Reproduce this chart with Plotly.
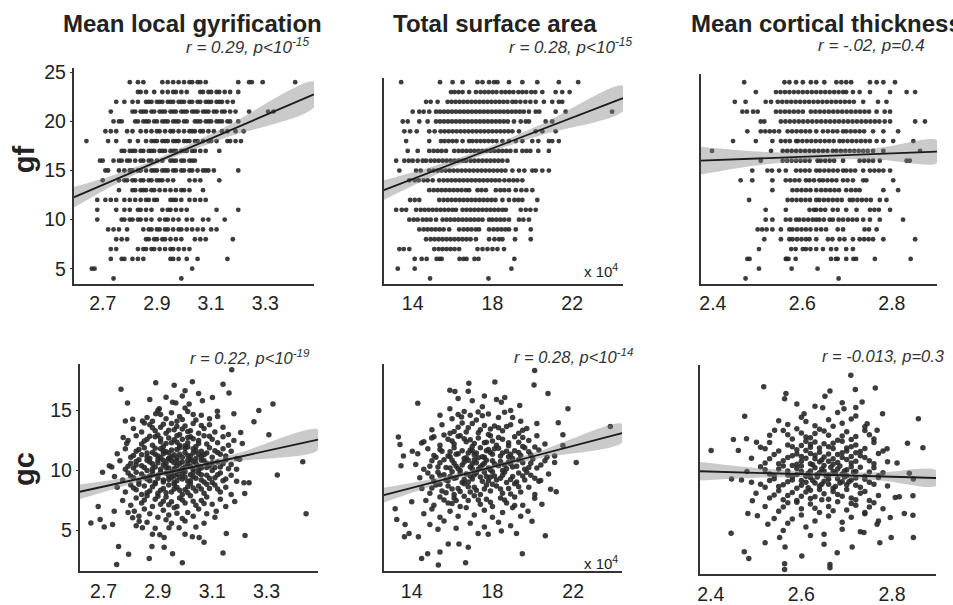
import plotly.graph_objects as go

W, H = 953, 605

# ---------------- data ----------------
gf_levels = [24, 23, 22, 21, 20, 19, 18, 17, 16, 15, 14, 13, 12, 11, 10, 9, 8, 7, 6, 5, 4]

# Mean local gyrification vs gf : x values for each gf level
tl_rows = [
    [2.80, 2.83, 2.85, 2.92, 2.94, 2.96, 2.98, 3.00, 3.02, 3.03, 3.05, 3.06, 3.08, 3.20, 3.24, 3.25, 3.29, 3.41],
    [2.83, 2.84, 2.86, 2.89, 2.92, 2.94, 2.96, 2.97, 2.99, 3.01, 3.06, 3.07, 3.09, 3.10, 3.12, 3.13, 3.15, 3.17, 3.20],
    [2.75, 2.78, 2.81, 2.83, 2.86, 2.87, 2.88, 2.90, 2.91, 2.92, 2.94, 2.95, 2.96, 2.98, 2.99, 3.00, 3.02, 3.03, 3.05, 3.06, 3.08, 3.09, 3.10, 3.12, 3.13, 3.14, 3.16, 3.18],
    [2.73, 2.81, 2.82, 2.84, 2.85, 2.86, 2.88, 2.89, 2.91, 2.92, 2.93, 2.95, 2.96, 2.97, 2.99, 3.00, 3.01, 3.03, 3.04, 3.05, 3.07, 3.08, 3.09, 3.11, 3.12, 3.14, 3.15, 3.17, 3.19, 3.24, 3.31, 3.33],
    [2.74, 2.76, 2.77, 2.82, 2.83, 2.85, 2.86, 2.87, 2.89, 2.90, 2.92, 2.93, 2.94, 2.96, 2.97, 2.98, 3.00, 3.01, 3.04, 3.05, 3.06, 3.08, 3.09, 3.10, 3.12, 3.13, 3.14, 3.16, 3.17, 3.20],
    [2.71, 2.73, 2.75, 2.79, 2.81, 2.84, 2.86, 2.88, 2.90, 2.91, 2.93, 2.95, 2.96, 2.98, 3.00, 3.02, 3.03, 3.04, 3.06, 3.07, 3.09, 3.11, 3.14, 3.16, 3.19, 3.22],
    [2.64, 2.72, 2.75, 2.80, 2.83, 2.86, 2.88, 2.89, 2.90, 2.92, 2.93, 2.94, 2.96, 2.97, 2.98, 3.00, 3.01, 3.02, 3.04, 3.05, 3.07, 3.09, 3.10, 3.12, 3.16, 3.17, 3.19, 3.21],
    [2.77, 2.78, 2.80, 2.81, 2.82, 2.84, 2.85, 2.87, 2.88, 2.89, 2.91, 2.92, 2.93, 2.95, 2.96, 2.97, 2.99, 3.00, 3.01, 3.03, 3.04, 3.06, 3.08, 3.13],
    [2.69, 2.70, 2.74, 2.76, 2.77, 2.79, 2.80, 2.82, 2.84, 2.85, 2.87, 2.88, 2.90, 2.92, 2.95, 2.96, 2.97, 2.99, 3.00, 3.02, 3.03, 3.04],
    [2.71, 2.72, 2.76, 2.78, 2.80, 2.81, 2.83, 2.84, 2.86, 2.88, 2.89, 2.90, 2.92, 2.93, 2.94, 2.96, 2.97, 2.99, 3.00, 3.02, 3.03, 3.05, 3.07, 3.08, 3.09, 3.11, 3.20],
    [2.70, 2.76, 2.78, 2.79, 2.81, 2.82, 2.84, 2.85, 2.87, 2.88, 2.90, 2.91, 2.92, 2.94, 2.96, 3.02, 3.04, 3.06, 3.13],
    [2.76, 2.81, 2.82, 2.84, 2.85, 2.86, 2.88, 2.89, 2.91, 2.93, 2.95, 2.97, 2.99, 3.00, 3.02, 3.07],
    [2.68, 2.71, 2.73, 2.75, 2.78, 2.80, 2.82, 2.84, 2.86, 2.87, 2.89, 2.90, 2.95, 2.96, 2.97, 2.99, 3.02, 3.04, 3.06, 3.08],
    [2.68, 2.75, 2.78, 2.80, 2.83, 2.84, 2.86, 2.88, 2.92, 2.94, 2.95, 2.97, 2.99, 3.01, 3.12, 3.20],
    [2.68, 2.77, 2.78, 2.80, 2.81, 2.83, 2.84, 2.86, 2.88, 2.91, 2.93, 2.94, 2.96, 2.98, 3.01, 3.03, 3.07, 3.09, 3.15],
    [2.72, 2.74, 2.76, 2.79, 2.85, 2.87, 2.88, 2.90, 2.91, 2.93, 2.94, 2.96, 2.98, 2.99, 3.01, 3.03, 3.05, 3.07, 3.10, 3.12],
    [2.75, 2.77, 2.79, 2.86, 2.87, 2.89, 2.90, 2.92, 2.93, 2.95, 2.97, 2.99, 3.04, 3.06, 3.08, 3.18],
    [2.73, 2.75, 2.83, 2.85, 2.86, 2.88, 2.89, 2.91, 2.93, 2.95, 2.96, 2.98, 3.00, 3.02],
    [2.73, 2.77, 2.78, 2.81, 2.83, 2.85, 2.95, 2.96, 2.98, 3.01, 3.05, 3.16],
    [2.66, 2.67, 3.03],
    [2.74, 2.99],
]

# Total surface area (x 10^4) vs gf
tm_rows = [
    [13.42, 15.37, 16.0, 16.5, 17.25, 17.5, 17.83, 18.08, 18.25, 18.83, 19.5, 20.25, 21.33, 22.3],
    [15.92, 16.1, 16.3, 16.5, 16.83, 17.17, 17.4, 17.6, 17.8, 18.0, 18.2, 18.45, 18.65, 18.85, 19.05, 19.3, 19.5, 19.7, 19.95, 20.15, 20.5, 21.17, 21.5, 21.87],
    [14.67, 14.9, 15.25, 15.75, 15.95, 16.15, 16.35, 16.55, 16.75, 16.95, 17.15, 17.35, 17.55, 17.75, 17.95, 18.15, 18.35, 18.55, 18.75, 19.0, 19.17, 19.4, 19.65, 19.9, 20.17, 20.58, 21.0, 21.33, 21.5],
    [14.0, 14.33, 14.55, 14.83, 15.17, 15.37, 15.57, 15.77, 15.97, 16.17, 16.37, 16.57, 16.77, 16.97, 17.17, 17.37, 17.57, 17.77, 17.97, 18.17, 18.37, 18.57, 18.77, 18.97, 19.17, 19.37, 19.57, 19.83, 20.17, 20.35, 21.17, 21.67, 24.0],
    [13.5, 13.75, 14.33, 14.75, 15.17, 15.37, 15.57, 15.77, 15.97, 16.17, 16.37, 16.57, 16.77, 16.97, 17.17, 17.37, 17.57, 17.77, 17.97, 18.17, 18.37, 18.57, 18.77, 19.08, 19.42, 19.67, 19.83, 20.67, 21.0],
    [13.58, 13.87, 14.2, 14.83, 15.1, 15.4, 15.6, 15.8, 16.0, 16.2, 16.4, 16.6, 16.8, 17.0, 17.2, 17.4, 17.6, 17.8, 18.0, 18.2, 18.4, 18.6, 18.8, 19.0, 19.33, 20.17, 20.5, 21.17],
    [13.67, 14.83, 15.42, 15.6, 15.8, 16.0, 16.2, 16.5, 16.83, 17.0, 17.2, 17.4, 17.6, 17.8, 18.0, 18.2, 18.5, 18.83, 19.17, 19.5, 20.0, 20.3, 20.83, 21.0, 21.33],
    [13.75, 14.25, 14.83, 15.05, 15.25, 15.45, 15.67, 16.08, 16.3, 16.5, 16.7, 16.9, 17.1, 17.3, 17.5, 17.7, 17.9, 18.1, 18.3, 18.5, 18.7, 18.9, 19.17, 19.5, 19.7, 19.9, 20.3, 20.83],
    [13.17, 13.58, 13.8, 14.0, 14.25, 14.5, 14.67, 14.9, 15.1, 15.3, 15.5, 15.7, 15.9, 16.1, 16.3, 16.5, 16.67, 16.9, 17.1, 17.3, 17.5, 17.7, 17.9, 18.1, 18.3, 18.5, 18.75],
    [13.33, 14.17, 14.4, 14.83, 15.05, 15.25, 15.45, 15.65, 15.85, 16.05, 16.25, 16.45, 16.65, 16.85, 17.05, 17.25, 17.45, 17.65, 17.85, 18.05, 18.25, 18.45, 18.65, 19.0, 19.33, 19.6, 20.0, 20.17, 20.5, 20.83],
    [13.83, 14.1, 14.3, 14.55, 14.75, 15.0, 15.33, 15.55, 15.75, 15.95, 16.15, 16.35, 16.55, 16.75, 16.95, 17.15, 17.35, 17.55, 17.75, 17.95, 18.15, 18.35, 18.6, 18.83, 19.05, 19.25, 19.5],
    [14.83, 15.05, 15.25, 15.45, 15.65, 15.85, 16.05, 16.25, 16.45, 16.67, 16.83, 17.25, 17.45, 17.67, 18.17, 18.4, 18.6, 18.83, 19.17, 19.45, 19.7, 20.0],
    [13.87, 14.1, 14.33, 15.33, 15.55, 15.75, 15.95, 16.15, 16.35, 16.55, 16.75, 16.95, 17.15, 17.35, 17.55, 17.75, 17.95, 18.15, 18.5, 18.83, 19.1, 19.3, 19.5, 20.25],
    [13.17, 13.45, 13.67, 14.17, 14.4, 14.6, 14.8, 15.0, 15.2, 15.4, 15.6, 15.8, 16.0, 16.17, 16.5, 16.7, 16.9, 17.1, 17.3, 17.5, 17.7, 17.9, 18.1, 18.3, 18.5, 18.67, 19.42, 19.67, 19.9, 20.17],
    [13.83, 14.05, 14.25, 14.5, 14.7, 14.9, 15.17, 15.5, 15.7, 15.9, 16.1, 16.3, 16.5, 16.7, 16.9, 17.1, 17.3, 17.5, 17.83, 18.0, 18.2, 18.4, 18.6, 18.83, 19.33, 19.55, 19.83],
    [14.33, 14.55, 14.75, 14.95, 15.15, 15.35, 15.55, 15.83, 16.33, 16.55, 16.75, 16.95, 17.17, 17.33, 17.83, 18.05, 18.25, 18.45, 18.65, 18.83, 19.17, 19.92],
    [14.67, 14.9, 15.1, 15.3, 15.5, 15.7, 15.9, 16.1, 16.3, 16.5, 16.7, 16.9, 17.17, 17.83, 18.1, 18.33, 18.5, 19.13, 19.92],
    [13.33, 13.55, 13.83, 15.08, 15.3, 15.5, 15.7, 15.9, 16.1, 16.33, 17.25, 17.5, 17.75, 18.0, 18.25, 18.58],
    [14.1, 14.45, 14.7, 15.2, 15.35, 15.45, 16.35, 16.55, 16.7, 17.1, 17.3, 19.1],
    [13.25, 14.1, 18.95],
    [14.87, 17.8],
]

# Mean cortical thickness vs gf
tr_rows = [
    [2.470, 2.560, 2.571, 2.586, 2.601, 2.619, 2.631, 2.649, 2.676, 2.687, 2.698, 2.709, 2.751, 2.766, 2.781, 2.807],
    [2.496, 2.541, 2.551, 2.561, 2.571, 2.581, 2.591, 2.601, 2.611, 2.621, 2.631, 2.641, 2.651, 2.661, 2.671, 2.681, 2.691, 2.698, 2.713, 2.728, 2.751, 2.796, 2.833, 2.852],
    [2.449, 2.473, 2.518, 2.530, 2.545, 2.555, 2.565, 2.575, 2.585, 2.595, 2.605, 2.615, 2.625, 2.635, 2.645, 2.655, 2.665, 2.675, 2.685, 2.695, 2.705, 2.715, 2.736, 2.769, 2.788],
    [2.466, 2.476, 2.490, 2.500, 2.541, 2.551, 2.561, 2.571, 2.581, 2.591, 2.601, 2.619, 2.629, 2.639, 2.649, 2.659, 2.669, 2.679, 2.689, 2.699, 2.709, 2.719, 2.729, 2.739, 2.749, 2.766, 2.784, 2.796],
    [2.507, 2.515, 2.552, 2.562, 2.572, 2.582, 2.592, 2.602, 2.612, 2.622, 2.632, 2.642, 2.652, 2.662, 2.672, 2.682, 2.692, 2.702, 2.712, 2.722, 2.732, 2.742, 2.752, 2.762, 2.772, 2.784, 2.796, 2.852, 2.874],
    [2.477, 2.507, 2.517, 2.527, 2.537, 2.548, 2.567, 2.577, 2.587, 2.597, 2.607, 2.617, 2.631, 2.646, 2.657, 2.668, 2.678, 2.691, 2.698, 2.708, 2.718, 2.728, 2.738, 2.758, 2.781, 2.814],
    [2.445, 2.496, 2.533, 2.552, 2.562, 2.572, 2.586, 2.590, 2.600, 2.610, 2.620, 2.630, 2.640, 2.650, 2.660, 2.670, 2.683, 2.691, 2.701, 2.711, 2.721, 2.731, 2.741, 2.751, 2.766, 2.781, 2.803, 2.848],
    [2.398, 2.530, 2.556, 2.566, 2.576, 2.586, 2.596, 2.606, 2.616, 2.626, 2.636, 2.646, 2.656, 2.668, 2.676, 2.686, 2.696, 2.706, 2.716, 2.726, 2.736, 2.746, 2.758, 2.781, 2.863],
    [2.507, 2.556, 2.566, 2.576, 2.586, 2.596, 2.606, 2.616, 2.634, 2.641, 2.651, 2.661, 2.671, 2.691, 2.728, 2.738, 2.748, 2.758, 2.773, 2.833, 2.840],
    [2.488, 2.522, 2.532, 2.548, 2.563, 2.586, 2.596, 2.606, 2.616, 2.631, 2.639, 2.649, 2.659, 2.669, 2.679, 2.691, 2.698, 2.708, 2.718, 2.736, 2.751, 2.761, 2.771, 2.781, 2.796],
    [2.462, 2.488, 2.533, 2.563, 2.573, 2.583, 2.593, 2.608, 2.616, 2.626, 2.638, 2.646, 2.656, 2.666, 2.676, 2.691, 2.701, 2.713, 2.736, 2.743, 2.803],
    [2.533, 2.578, 2.588, 2.598, 2.608, 2.618, 2.631, 2.642, 2.652, 2.662, 2.672, 2.682, 2.698, 2.709, 2.719, 2.728, 2.781, 2.814],
    [2.481, 2.567, 2.577, 2.587, 2.597, 2.607, 2.617, 2.631, 2.638, 2.648, 2.658, 2.668, 2.678, 2.688, 2.706, 2.713, 2.723, 2.733, 2.743, 2.753, 2.773, 2.788],
    [2.518, 2.563, 2.616, 2.626, 2.631, 2.641, 2.651, 2.668, 2.679, 2.698, 2.721, 2.751, 2.761, 2.771, 2.796],
    [2.518, 2.533, 2.563, 2.573, 2.586, 2.593, 2.603, 2.613, 2.623, 2.631, 2.638, 2.648, 2.661, 2.668, 2.681, 2.691, 2.702, 2.712, 2.722, 2.736, 2.751, 2.773, 2.825],
    [2.500, 2.510, 2.520, 2.533, 2.552, 2.571, 2.578, 2.588, 2.598, 2.608, 2.618, 2.631, 2.642, 2.653, 2.679, 2.691, 2.739, 2.749, 2.766],
    [2.515, 2.552, 2.571, 2.578, 2.588, 2.598, 2.608, 2.616, 2.631, 2.657, 2.667, 2.683, 2.694, 2.713, 2.728, 2.738, 2.748, 2.758, 2.781, 2.852],
    [2.503, 2.575, 2.585, 2.601, 2.608, 2.618, 2.631, 2.646, 2.664, 2.676, 2.698, 2.713],
    [2.477, 2.482, 2.563, 2.565, 2.569, 2.585, 2.664, 2.675, 2.679, 2.698, 2.714, 2.720, 2.762, 2.842],
    [2.503, 2.576, 2.634],
    [2.473, 2.681],
]

# Mean local gyrification vs gc : (x, y)
bl_pts = [
    (2.764, 16.76), (2.788, 15.62), (2.892, 17.30), (2.960, 17.09), (3.027, 17.38), (3.000, 16.63), (3.140, 17.17),
    (3.172, 18.39), (3.162, 16.44), (3.272, 15.0), (3.324, 15.54), (3.309, 12.97), (3.254, 14.05), (3.340, 9.63),
    (3.434, 10.72), (3.446, 6.41), (3.221, 4.59), (3.140, 3.13), (3.152, 4.76), (2.990, 2.32), (2.954, 3.08),
    (2.868, 2.67), (2.792, 3.02), (2.748, 2.18), (2.755, 3.67), (2.653, 5.62), (2.680, 7.0), (2.687, 5.92),
    (2.702, 5.30), (2.733, 5.51), (2.696, 9.85), (2.721, 10.39), (2.739, 6.6), (2.772, 12.75), (2.785, 12.24),
    (2.780, 14.11), (2.807, 14.27), (2.843, 14.11), (2.892, 14.73), (2.905, 15.14), (2.954, 15.68), (2.966, 15.62),
    (3.015, 15.54), (3.064, 15.81), (3.101, 16.08), (3.119, 14.92), (3.180, 14.73), (3.205, 13.16), (3.211, 12.24),
    (3.201, 10.93), (3.217, 8.98), (3.236, 8.98), (3.220, 8.09), (3.183, 7.41), (3.115, 6.6), (3.070, 4.02),
    (3.052, 4.43), (3.027, 4.48), (3.000, 4.70), (2.978, 5.24), (2.941, 5.24), (2.923, 4.43), (2.907, 4.65),
    (2.923, 3.62), (2.878, 3.67), (2.880, 4.70), (2.843, 5.24), (2.831, 5.78), (2.807, 6.06), (2.813, 6.6),
    (2.86, 14.4), (2.90, 15.0), (2.93, 14.3), (2.95, 14.8), (2.98, 14.5), (3.01, 14.9), (3.04, 14.2), (3.06, 14.6),
    (3.09, 14.3), (2.88, 14.1), (3.00, 15.2), (2.97, 14.1), (3.12, 14.5),
    (2.81, 13.5), (2.84, 13.2), (2.87, 13.8), (2.89, 13.3), (2.91, 13.6), (2.93, 13.1), (2.95, 13.9), (2.96, 13.4),
    (2.98, 13.0), (3.00, 13.7), (3.02, 13.3), (3.03, 13.9), (3.05, 13.1), (3.07, 13.5), (3.09, 13.8), (3.11, 13.2),
    (3.14, 13.6), (2.85, 13.95), (2.99, 13.45), (3.16, 13.0),
    (2.79, 12.5), (2.82, 12.9), (2.84, 12.2), (2.86, 12.6), (2.88, 12.1), (2.89, 12.8), (2.91, 12.4), (2.92, 12.0),
    (2.94, 12.7), (2.95, 12.3), (2.97, 12.9), (2.98, 12.1), (2.99, 12.6), (3.01, 12.3), (3.02, 12.8), (3.04, 12.0),
    (3.05, 12.5), (3.07, 12.9), (3.08, 12.2), (3.10, 12.6), (3.12, 12.3), (3.14, 12.8), (3.16, 12.1), (3.18, 12.5),
    (2.90, 12.95), (3.00, 12.05), (2.96, 12.55), (3.03, 12.65),
    (2.75, 11.4), (2.78, 11.8), (2.80, 11.1), (2.82, 11.6), (2.84, 11.3), (2.85, 11.9), (2.87, 11.0), (2.88, 11.5),
    (2.90, 11.2), (2.91, 11.8), (2.92, 11.4), (2.94, 11.0), (2.95, 11.7), (2.96, 11.3), (2.98, 11.9), (2.99, 11.1),
    (3.00, 11.5), (3.02, 11.2), (3.03, 11.8), (3.04, 11.0), (3.06, 11.6), (3.07, 11.3), (3.09, 11.9), (3.10, 11.1),
    (3.12, 11.5), (3.14, 11.8), (3.15, 11.2), (3.17, 11.6), (3.19, 11.0), (2.93, 11.55), (2.97, 11.05), (3.01, 11.95),
    (2.86, 11.45), (3.05, 11.35), (2.89, 11.85),
    (2.73, 10.3), (2.76, 10.8), (2.78, 10.1), (2.80, 10.6), (2.81, 10.2), (2.83, 10.9), (2.84, 10.4), (2.86, 10.0),
    (2.87, 10.7), (2.89, 10.3), (2.90, 10.9), (2.91, 10.1), (2.93, 10.6), (2.94, 10.2), (2.95, 10.8), (2.97, 10.4),
    (2.98, 10.0), (2.99, 10.7), (3.00, 10.3), (3.02, 10.9), (3.03, 10.1), (3.04, 10.6), (3.06, 10.2), (3.07, 10.8),
    (3.09, 10.4), (3.10, 10.0), (3.12, 10.7), (3.13, 10.3), (3.15, 10.9), (3.17, 10.5), (3.19, 10.1), (2.92, 10.45),
    (2.96, 10.65), (3.01, 10.55), (3.05, 10.35), (2.88, 10.55), (2.82, 10.45), (3.08, 10.6),
    (2.74, 9.5), (2.77, 9.2), (2.79, 9.8), (2.81, 9.4), (2.83, 9.1), (2.84, 9.7), (2.86, 9.3), (2.88, 9.9),
    (2.89, 9.0), (2.90, 9.6), (2.92, 9.2), (2.93, 9.8), (2.95, 9.4), (2.96, 9.0), (2.97, 9.7), (2.99, 9.3),
    (3.00, 9.9), (3.01, 9.1), (3.03, 9.5), (3.05, 9.8), (3.06, 9.2), (3.08, 9.6), (3.10, 9.0), (3.11, 9.4),
    (3.13, 9.8), (3.15, 9.3), (3.17, 9.6), (3.19, 9.1), (2.94, 9.55), (2.98, 9.45), (3.02, 9.65), (2.87, 9.55),
    (2.75, 8.6), (2.78, 8.2), (2.80, 8.8), (2.82, 8.4), (2.84, 8.0), (2.85, 8.7), (2.87, 8.3), (2.89, 8.9),
    (2.90, 8.1), (2.92, 8.5), (2.94, 8.8), (2.95, 8.2), (2.97, 8.6), (2.99, 8.0), (3.00, 8.4), (3.02, 8.9),
    (3.04, 8.3), (3.05, 8.7), (3.07, 8.1), (3.09, 8.5), (3.11, 8.8), (3.13, 8.2), (3.15, 8.6), (3.17, 8.0),
    (2.96, 8.45), (3.01, 8.65),
    (2.77, 7.5), (2.80, 7.1), (2.82, 7.7), (2.84, 7.3), (2.86, 7.9), (2.88, 7.0), (2.89, 7.6), (2.91, 7.2),
    (2.93, 7.8), (2.95, 7.4), (2.97, 7.0), (2.98, 7.7), (3.00, 7.3), (3.02, 7.9), (3.04, 7.1), (3.06, 7.5),
    (3.08, 7.8), (3.10, 7.2), (3.13, 7.6), (3.15, 7.0),
    (2.79, 6.5), (2.83, 6.2), (2.85, 6.8), (2.87, 6.4), (2.90, 6.1), (2.92, 6.7), (2.94, 6.3), (2.96, 6.9),
    (2.99, 6.0), (3.01, 6.5), (3.03, 6.2), (3.05, 6.8), (3.08, 6.4), (3.11, 6.1), (2.97, 6.45),
    (2.82, 5.4), (2.86, 5.7), (2.89, 5.2), (2.95, 5.6), (3.00, 5.8), (3.04, 5.3), (3.07, 5.6), (2.93, 5.9),
    (2.93, 16.1), (2.99, 16.2), (3.05, 16.4), (2.87, 15.9),
    (2.85, 12.45), (2.87, 12.85), (2.93, 12.25), (2.97, 12.35), (3.01, 12.75), (3.05, 12.25), (3.09, 12.85), (2.91, 12.65),
    (2.81, 11.25), (2.83, 11.75), (2.86, 11.15), (2.89, 11.35), (2.91, 11.05), (2.92, 11.65), (2.94, 11.45), (2.95, 11.15),
    (2.97, 11.75), (2.98, 11.35), (3.00, 11.85), (3.01, 11.25), (3.03, 11.45), (3.04, 11.65), (3.06, 11.15), (3.08, 11.45),
    (3.11, 11.65), (3.13, 11.35),
    (2.79, 10.35), (2.82, 10.75), (2.85, 10.25), (2.86, 10.85), (2.88, 10.15), (2.90, 10.65), (2.92, 10.85), (2.93, 10.25),
    (2.94, 10.95), (2.96, 10.15), (2.97, 10.85), (2.98, 10.55), (2.99, 10.15), (3.01, 10.85), (3.02, 10.35), (3.03, 10.75),
    (3.05, 10.05), (3.06, 10.85), (3.08, 10.25), (3.10, 10.65), (3.11, 10.25), (3.14, 10.55), (3.16, 10.15),
    (2.80, 9.55), (2.82, 9.85), (2.85, 9.45), (2.87, 9.15), (2.88, 9.65), (2.90, 9.35), (2.91, 9.85), (2.92, 9.05),
    (2.94, 9.25), (2.95, 9.85), (2.96, 9.55), (2.97, 9.15), (2.99, 9.75), (3.00, 9.45), (3.02, 9.15), (3.03, 9.85),
    (3.04, 9.35), (3.06, 9.65), (3.07, 9.05), (3.09, 9.35), (3.12, 9.65), (3.14, 9.15),
    (2.81, 8.55), (2.83, 8.85), (2.86, 8.15), (2.88, 8.65), (2.91, 8.35), (2.93, 8.15), (2.96, 8.85), (2.98, 8.35),
    (3.01, 8.15), (3.03, 8.55), (3.06, 8.45), (3.08, 8.85), (3.12, 8.45),
    (2.85, 7.55), (2.90, 7.85), (2.94, 7.15), (2.99, 7.55), (3.03, 7.45), (3.07, 7.25), (2.92, 7.45),
    (2.88, 13.55), (2.92, 13.85), (2.97, 13.65), (3.01, 13.25), (3.06, 13.75), (2.94, 13.35),
    (2.91, 14.65), (2.99, 14.25), (3.03, 14.65),
]

# Total surface area (x 10^4) vs gc
bm_pts = [
    (20.09, 18.33), (16.83, 17.25), (18.12, 17.36), (15.89, 16.68), (16.14, 16.57), (14.30, 15.6), (20.06, 17.11),
    (20.75, 16.41), (21.74, 15.14), (21.26, 13.97), (23.84, 13.65), (22.15, 10.66), (21.49, 12.07), (21.08, 10.66),
    (13.18, 6.82), (13.26, 5.92), (13.34, 12.78), (13.42, 12.16), (13.64, 4.49), (13.87, 4.76), (14.33, 4.49),
    (14.49, 2.67), (14.79, 3.08), (15.32, 2.13), (15.40, 3.21), (16.67, 2.32), (16.80, 3.62), (17.29, 4.76),
    (17.79, 4.70), (19.19, 4.76), (19.48, 3.08), (19.96, 5.78), (20.62, 4.57), (20.45, 7.2), (20.88, 8.44),
    (21.16, 8.23), (20.39, 9.17), (20.78, 9.71), (21.08, 11.2), (13.47, 10.39), (13.59, 11.2), (14.0, 7.4),
    (13.67, 5.51), (15.81, 3.89), (16.34, 3.89), (18.44, 4.97), (19.10, 7.09), (19.76, 6.6), (20.09, 7.68),
    (21.49, 12.97), (19.35, 15.41), (18.61, 16.08), (18.44, 15.68), (17.29, 14.87), (16.47, 14.46), (15.89, 15.14),
    (14.99, 12.70), (14.49, 12.29), (14.03, 11.61),
    (16.0, 14.3), (16.6, 14.9), (17.2, 14.2), (17.8, 14.7), (18.3, 14.4), (18.9, 15.0), (19.4, 14.1), (15.4, 14.6),
    (17.5, 15.3), (19.0, 14.4), (16.9, 14.6),
    (15.0, 13.4), (15.5, 13.8), (15.9, 13.1), (16.3, 13.6), (16.7, 13.2), (17.0, 13.9), (17.4, 13.4), (17.8, 13.0),
    (18.1, 13.7), (18.5, 13.3), (18.9, 13.8), (19.3, 13.1), (19.7, 13.5), (20.2, 13.9), (16.5, 13.95), (18.3, 13.55),
    (17.6, 13.75),
    (14.6, 12.4), (15.1, 12.8), (15.4, 12.1), (15.8, 12.6), (16.1, 12.2), (16.4, 12.9), (16.7, 12.4), (17.0, 12.0),
    (17.3, 12.7), (17.6, 12.3), (17.9, 12.9), (18.2, 12.1), (18.5, 12.6), (18.8, 12.3), (19.1, 12.8), (19.5, 12.0),
    (19.8, 12.5), (20.2, 12.9), (20.6, 12.2), (16.9, 12.55), (18.0, 12.45), (19.3, 12.35), (15.6, 12.95),
    (14.3, 11.4), (14.8, 11.8), (15.2, 11.1), (15.5, 11.6), (15.8, 11.2), (16.1, 11.9), (16.3, 11.4), (16.6, 11.0),
    (16.9, 11.7), (17.1, 11.3), (17.4, 11.9), (17.6, 11.1), (17.9, 11.5), (18.1, 11.8), (18.4, 11.2), (18.7, 11.6),
    (19.0, 11.0), (19.3, 11.5), (19.6, 11.9), (19.9, 11.3), (20.3, 11.7), (20.7, 11.1), (16.8, 11.45), (17.7, 11.65),
    (18.9, 11.35), (15.9, 11.55), (17.3, 11.05),
    (14.2, 10.5), (14.6, 10.1), (15.0, 10.8), (15.3, 10.3), (15.6, 10.9), (15.9, 10.2), (16.1, 10.6), (16.4, 10.0),
    (16.6, 10.7), (16.9, 10.3), (17.1, 10.9), (17.3, 10.1), (17.6, 10.6), (17.8, 10.2), (18.0, 10.8), (18.3, 10.4),
    (18.5, 10.0), (18.8, 10.7), (19.0, 10.3), (19.3, 10.9), (19.6, 10.1), (19.9, 10.6), (20.2, 10.2), (20.6, 10.8),
    (16.2, 10.35), (17.5, 10.45), (18.6, 10.45), (17.0, 10.55),
    (14.4, 9.4), (14.8, 9.8), (15.1, 9.1), (15.4, 9.6), (15.7, 9.2), (16.0, 9.9), (16.2, 9.4), (16.5, 9.0),
    (16.7, 9.7), (17.0, 9.3), (17.2, 9.8), (17.5, 9.1), (17.7, 9.5), (18.0, 9.9), (18.2, 9.2), (18.5, 9.6),
    (18.7, 9.0), (19.0, 9.5), (19.3, 9.8), (19.6, 9.2), (19.9, 9.6), (20.3, 9.1), (16.9, 9.55), (17.9, 9.45),
    (15.9, 9.5),
    (14.5, 8.5), (14.9, 8.1), (15.2, 8.8), (15.5, 8.3), (15.8, 8.7), (16.1, 8.0), (16.3, 8.5), (16.6, 8.9),
    (16.9, 8.2), (17.1, 8.6), (17.4, 8.0), (17.7, 8.8), (17.9, 8.3), (18.2, 8.7), (18.5, 8.1), (18.8, 8.5),
    (19.1, 8.9), (19.4, 8.2), (19.8, 8.6), (20.1, 8.0),
    (14.7, 7.5), (15.1, 7.1), (15.4, 7.8), (15.8, 7.3), (16.1, 7.7), (16.4, 7.0), (16.8, 7.5), (17.1, 7.9),
    (17.4, 7.2), (17.7, 7.6), (18.0, 7.0), (18.4, 7.7), (18.7, 7.3), (19.1, 7.8), (19.5, 7.1),
    (14.6, 6.4), (15.0, 6.8), (15.4, 6.1), (15.9, 6.6), (16.3, 6.2), (16.7, 6.9), (17.1, 6.3), (17.6, 6.7),
    (18.0, 6.1), (18.5, 6.5), (19.0, 6.9), (19.4, 6.2),
    (14.9, 5.5), (15.6, 5.8), (16.2, 5.2), (16.9, 5.6), (17.6, 5.3), (18.3, 5.7), (18.9, 5.4), (15.3, 5.1),
    (16.3, 16.0), (17.0, 15.8), (17.6, 16.2), (18.2, 15.9), (16.8, 16.6),
    (16.0, 12.45), (16.3, 12.85), (17.1, 12.25), (17.7, 12.35), (18.3, 12.75), (18.8, 12.05), (19.5, 12.75), (16.6, 12.65),
    (15.1, 11.25), (15.4, 11.75), (15.9, 11.15), (16.2, 11.35), (16.5, 11.65), (16.7, 11.05), (17.0, 11.65), (17.2, 11.45),
    (17.5, 11.15), (17.8, 11.75), (18.0, 11.35), (18.3, 11.85), (18.5, 11.45), (18.8, 11.15), (19.1, 11.65), (19.4, 11.25),
    (19.8, 11.55), (20.1, 11.95),
    (14.9, 10.35), (15.4, 10.65), (15.7, 10.25), (16.0, 10.85), (16.3, 10.15), (16.5, 10.45), (16.8, 10.85), (17.0, 10.15),
    (17.2, 10.65), (17.4, 10.3), (17.7, 10.85), (17.9, 10.05), (18.1, 10.55), (18.4, 10.75), (18.7, 10.15), (18.9, 10.55),
    (19.2, 10.35), (19.5, 10.65), (19.8, 10.25), (20.0, 10.95), (20.4, 10.45),
    (15.0, 9.45), (15.3, 9.85), (15.6, 9.65), (15.8, 9.15), (16.1, 9.35), (16.4, 9.75), (16.6, 9.25), (16.8, 9.05),
    (17.1, 9.65), (17.4, 9.45), (17.6, 9.85), (17.8, 9.15), (18.1, 9.55), (18.4, 9.35), (18.6, 9.85), (18.9, 9.25),
    (19.2, 9.05), (19.5, 9.55), (19.7, 9.85), (20.1, 9.35),
    (15.0, 8.55), (15.4, 8.85), (15.7, 8.15), (16.0, 8.45), (16.4, 8.25), (16.8, 8.65), (17.2, 8.35), (17.6, 8.45),
    (18.0, 8.85), (18.4, 8.45), (18.9, 8.05), (19.3, 8.65),
    (15.6, 7.55), (16.0, 7.25), (16.6, 7.85), (17.3, 7.55), (17.9, 7.35), (18.6, 7.55), (16.2, 7.5),
    (16.1, 13.25), (16.8, 13.55), (17.3, 13.15), (17.9, 13.45), (18.7, 13.65), (19.5, 13.35),
    (16.3, 14.65), (17.5, 14.55), (18.6, 14.85),
]

# Mean cortical thickness vs gc
br_pts = [
    (2.709, 18.39), (2.663, 17.08), (2.719, 17.19), (2.763, 17.33), (2.517, 17.42), (2.563, 16.44), (2.566, 16.86),
    (2.734, 16.17), (2.652, 16.64), (2.475, 14.97), (2.450, 13.06), (2.401, 12.14), (2.461, 12.14), (2.479, 13.11),
    (2.501, 12.83), (2.858, 14.78), (2.834, 12.75), (2.868, 12.36), (2.779, 15.19), (2.811, 11.11), (2.838, 10.25),
    (2.847, 9.78), (2.816, 8.31), (2.846, 8.39), (2.846, 6.78), (2.827, 6.92), (2.847, 4.92), (2.798, 4.92),
    (2.773, 4.5), (2.712, 4.14), (2.663, 2.69), (2.663, 2.42), (2.679, 3.67), (2.601, 3.39), (2.564, 4.14),
    (2.563, 2.75), (2.563, 2.28), (2.484, 3.19), (2.474, 3.75), (2.445, 5.28), (2.520, 4.5), (2.468, 9.69),
    (2.482, 6.92), (2.503, 6.72), (2.492, 7.97), (2.446, 9.78), (2.526, 6.03), (2.552, 4.92), (2.650, 4.36),
    (2.738, 5.33), (2.767, 6.03), (2.796, 6.58), (2.807, 8.25), (2.789, 12.28), (2.767, 13.81), (2.745, 14.36),
    (2.606, 15.19), (2.647, 15.69), (2.694, 15.61), (2.541, 13.81), (2.520, 12.28),
    (2.57, 14.3), (2.60, 14.9), (2.63, 14.2), (2.66, 14.7), (2.69, 14.4), (2.72, 15.0), (2.74, 14.1), (2.55, 14.6),
    (2.68, 15.3),
    (2.53, 13.4), (2.56, 13.8), (2.58, 13.1), (2.60, 13.6), (2.62, 13.2), (2.64, 13.9), (2.66, 13.4), (2.68, 13.0),
    (2.70, 13.7), (2.72, 13.3), (2.74, 13.8), (2.76, 13.1), (2.63, 13.55), (2.69, 13.35), (2.59, 13.95),
    (2.51, 12.4), (2.53, 12.8), (2.55, 12.1), (2.57, 12.6), (2.59, 12.2), (2.61, 12.9), (2.62, 12.4), (2.64, 12.0),
    (2.65, 12.7), (2.67, 12.3), (2.69, 12.9), (2.70, 12.1), (2.72, 12.6), (2.74, 12.3), (2.76, 12.8), (2.78, 12.1),
    (2.66, 12.45), (2.60, 12.55), (2.71, 12.45), (2.63, 12.85),
    (2.49, 11.5), (2.52, 11.1), (2.54, 11.8), (2.56, 11.3), (2.58, 11.7), (2.59, 11.0), (2.61, 11.5), (2.62, 11.9),
    (2.64, 11.2), (2.65, 11.6), (2.67, 11.0), (2.68, 11.8), (2.70, 11.4), (2.71, 11.1), (2.73, 11.7), (2.75, 11.3),
    (2.77, 11.9), (2.79, 11.2), (2.63, 11.45), (2.66, 11.25), (2.69, 11.55), (2.60, 11.25), (2.72, 11.95),
    (2.48, 10.4), (2.51, 10.8), (2.53, 10.2), (2.55, 10.6), (2.57, 10.1), (2.58, 10.9), (2.60, 10.4), (2.61, 10.0),
    (2.63, 10.7), (2.64, 10.3), (2.65, 10.9), (2.66, 10.1), (2.68, 10.6), (2.69, 10.2), (2.71, 10.8), (2.72, 10.4),
    (2.74, 10.0), (2.76, 10.7), (2.78, 10.3), (2.62, 10.45), (2.67, 10.4), (2.70, 10.55), (2.59, 10.65), (2.645, 10.6),
    (2.49, 9.5), (2.52, 9.1), (2.54, 9.8), (2.56, 9.3), (2.58, 9.7), (2.59, 9.0), (2.61, 9.5), (2.62, 9.9),
    (2.64, 9.2), (2.65, 9.6), (2.67, 9.0), (2.68, 9.8), (2.70, 9.3), (2.71, 9.7), (2.73, 9.1), (2.75, 9.5),
    (2.77, 9.9), (2.79, 9.2), (2.63, 9.45), (2.66, 9.35), (2.69, 9.55), (2.60, 9.25), (2.72, 9.85),
    (2.50, 8.6), (2.53, 8.2), (2.55, 8.8), (2.57, 8.4), (2.59, 8.0), (2.61, 8.7), (2.63, 8.3), (2.64, 8.9),
    (2.66, 8.1), (2.68, 8.5), (2.70, 8.9), (2.71, 8.2), (2.73, 8.6), (2.75, 8.0), (2.77, 8.4), (2.65, 8.55),
    (2.62, 8.15),
    (2.52, 7.5), (2.55, 7.1), (2.57, 7.8), (2.60, 7.3), (2.62, 7.7), (2.64, 7.0), (2.66, 7.5), (2.68, 7.9),
    (2.70, 7.2), (2.72, 7.6), (2.74, 7.0), (2.76, 7.8), (2.78, 7.3),
    (2.54, 6.5), (2.57, 6.1), (2.60, 6.8), (2.63, 6.3), (2.66, 6.7), (2.69, 6.2), (2.71, 6.6), (2.74, 6.9),
    (2.77, 6.3), (2.58, 6.45),
    (2.56, 5.5), (2.61, 5.8), (2.65, 5.2), (2.69, 5.6), (2.73, 5.4), (2.62, 5.1),
    (2.59, 16.0), (2.63, 15.8), (2.69, 16.1), (2.72, 15.7),
    (2.58, 12.45), (2.61, 12.15), (2.64, 12.35), (2.67, 12.75), (2.70, 12.35), (2.73, 12.05), (2.62, 12.65),
    (2.53, 11.45), (2.55, 11.05), (2.57, 11.55), (2.59, 11.85), (2.60, 11.65), (2.62, 11.05), (2.63, 11.75),
    (2.645, 11.35), (2.66, 11.85), (2.67, 11.45), (2.68, 11.15), (2.69, 11.95), (2.71, 11.65), (2.72, 11.25),
    (2.74, 11.55), (2.76, 11.05),
    (2.52, 10.55), (2.54, 10.05), (2.56, 10.85), (2.57, 10.45), (2.59, 10.15), (2.60, 10.85), (2.615, 10.25),
    (2.625, 10.95), (2.635, 10.15), (2.65, 10.45), (2.655, 10.05), (2.665, 10.75), (2.675, 10.25), (2.685, 10.85),
    (2.695, 10.45), (2.70, 10.05), (2.715, 10.35), (2.73, 10.75), (2.75, 10.35), (2.77, 10.05),
    (2.51, 9.35), (2.53, 9.65), (2.55, 9.15), (2.57, 9.55), (2.58, 9.95), (2.60, 9.65), (2.615, 9.05), (2.625, 9.65),
    (2.635, 9.95), (2.645, 9.35), (2.66, 9.75), (2.675, 9.15), (2.685, 9.45), (2.695, 9.95), (2.705, 9.55),
    (2.72, 9.25), (2.74, 9.75), (2.76, 9.35),
    (2.54, 8.45), (2.56, 8.05), (2.58, 8.65), (2.60, 8.35), (2.62, 8.85), (2.645, 8.05), (2.67, 8.75), (2.69, 8.35),
    (2.72, 8.05), (2.74, 8.75),
    (2.56, 7.45), (2.59, 7.85), (2.63, 7.35), (2.67, 7.15), (2.71, 7.75), (2.75, 7.45),
    (2.57, 13.45), (2.61, 13.25), (2.65, 13.75), (2.71, 13.05), (2.75, 13.45),
    (2.61, 14.55), (2.67, 14.15), (2.71, 14.75),
]

# regression lines (end points) and confidence bands
tl_fit_x = [2.593, 3.479]
tl_fit_y = [12.27, 22.75]
tl_band_x = [2.593, 2.75, 2.92, 3.15, 3.479]
tl_band_lo = [11.22, 13.63, 15.86, 18.31, 21.45]
tl_band_hi = [13.32, 14.63, 16.42, 19.41, 24.05]

tm_fit_x = [12.55, 24.55]
tm_fit_y = [13.01, 22.37]
tm_band_x = [12.55, 15.0, 17.5, 20.5, 24.55]
tm_band_lo = [12.01, 14.42, 16.59, 18.66, 21.09]
tm_band_hi = [14.01, 15.42, 17.15, 19.76, 23.65]

tr_fit_x = [2.373, 2.901]
tr_fit_y = [16.01, 16.93]
tr_band_x = [2.373, 2.5, 2.64, 2.78, 2.901]
tr_band_lo = [14.60, 15.53, 16.13, 16.07, 15.78]
tr_band_hi = [17.42, 16.93, 16.83, 17.37, 18.08]

bl_fit_x = [2.612, 3.49]
bl_fit_y = [8.23, 12.56]
bl_band_x = [2.612, 2.8, 2.97, 3.2, 3.49]
bl_band_lo = [7.62, 8.86, 9.81, 10.78, 11.71]
bl_band_hi = [8.84, 9.46, 10.17, 11.48, 13.41]

bm_fit_x = [12.617, 24.42]
bm_fit_y = [7.95, 13.10]
bm_band_x = [12.617, 15.0, 17.5, 20.5, 24.42]
bm_band_lo = [7.34, 8.69, 9.90, 11.07, 12.33]
bm_band_hi = [8.56, 9.29, 10.26, 11.71, 13.87]

br_fit_x = [2.376, 2.897]
br_fit_y = [10.42, 9.86]
br_band_x = [2.376, 2.5, 2.65, 2.78, 2.897]
br_band_lo = [9.66, 9.89, 9.91, 9.64, 9.22]
br_band_hi = [11.18, 10.69, 10.35, 10.34, 10.50]

column_titles = ["Mean local gyrification", "Total surface area", "Mean cortical thickness"]
row_labels = ["gf", "gc"]
stat_labels = [
    "r = 0.29, p&lt;10<sup>-15</sup>", "r = 0.28, p&lt;10<sup>-15</sup>", "r = -.02, p=0.4",
    "r = 0.22, p&lt;10<sup>-19</sup>", "r = 0.28, p&lt;10<sup>-14</sup>", "r = -0.013, p=0.3",
]
ticks_gyr = [2.7, 2.9, 3.1, 3.3]
ticks_area = [14, 18, 22]
ticks_thick = [2.4, 2.6, 2.8]
ticks_gf = [5, 10, 15, 20, 25]
ticks_gc = [5, 10, 15]

# ---------------- figure ----------------
FONT = "Liberation Sans, Arial, Helvetica, sans-serif"
DOT = "rgba(40,40,40,0.9)"


def rows_to_xy(levels, rows):
    xs, ys = [], []
    for lv, r in zip(levels, rows):
        xs.extend(r)
        ys.extend([lv] * len(r))
    return xs, ys


panels = [
    dict(xy=rows_to_xy(gf_levels, tl_rows), fx=tl_fit_x, fy=tl_fit_y, bx=tl_band_x, blo=tl_band_lo, bhi=tl_band_hi,
         px=(71, 312), py=(63, 285), xr=[2.5934, 3.4794], yr=[3.40, 25.49], xt=ticks_gyr, yt=ticks_gf, ms=4.8,
         xso=0),
    dict(xy=rows_to_xy(gf_levels, tm_rows), fx=tm_fit_x, fy=tm_fit_y, bx=tm_band_x, blo=tm_band_lo, bhi=tm_band_hi,
         px=(382, 622), py=(74, 285), xr=[12.55, 24.55], yr=[3.40, 24.40], xt=ticks_area, yt=None, ms=4.8,
         xso=0),
    dict(xy=rows_to_xy(gf_levels, tr_rows), fx=tr_fit_x, fy=tr_fit_y, bx=tr_band_x, blo=tr_band_lo, bhi=tr_band_hi,
         px=(700, 937), py=(70, 285), xr=[2.373, 2.901], yr=[3.40, 24.80], xt=ticks_thick, yt=None, ms=4.8,
         xso=0),
    dict(xy=([p[0] for p in bl_pts], [p[1] for p in bl_pts]), fx=bl_fit_x, fy=bl_fit_y, bx=bl_band_x,
         blo=bl_band_lo, bhi=bl_band_hi,
         px=(77, 316), py=(366, 578), xr=[2.612, 3.49], yr=[1.667, 18.90], xt=ticks_gyr, yt=ticks_gc, ms=5.5,
         xso=2),
    dict(xy=([p[0] for p in bm_pts], [p[1] for p in bm_pts]), fx=bm_fit_x, fy=bm_fit_y, bx=bm_band_x,
         blo=bm_band_lo, bhi=bm_band_hi,
         px=(382, 621), py=(366, 578), xr=[12.617, 24.42], yr=[1.667, 18.90], xt=ticks_area, yt=None, ms=5.5,
         xso=2),
    dict(xy=([p[0] for p in br_pts], [p[1] for p in br_pts]), fx=br_fit_x, fy=br_fit_y, bx=br_band_x,
         blo=br_band_lo, bhi=br_band_hi,
         px=(699, 936), py=(368, 581), xr=[2.376, 2.897], yr=[1.936, 19.19], xt=ticks_thick, yt=None, ms=5.5,
         xso=2),
]

fig = go.Figure()
layout_axes = {}
for i, p in enumerate(panels, start=1):
    xa = "x" if i == 1 else f"x{i}"
    ya = "y" if i == 1 else f"y{i}"
    xs, ys = p["xy"]
    fig.add_trace(go.Scatter(x=xs, y=ys, mode="markers", xaxis=xa, yaxis=ya, cliponaxis=False,
                             marker=dict(size=p["ms"], color=DOT, line=dict(width=0)), hoverinfo="skip"))
    fig.add_trace(go.Scatter(x=p["bx"] + p["bx"][::-1], y=p["bhi"] + p["blo"][::-1], xaxis=xa, yaxis=ya,
                             mode="lines", fill="toself", fillcolor="rgba(128,128,128,0.42)",
                             line=dict(width=0, shape="spline", smoothing=0.8), hoverinfo="skip"))
    fig.add_trace(go.Scatter(x=p["fx"], y=p["fy"], mode="lines", xaxis=xa, yaxis=ya,
                             line=dict(color="#1c1c1c", width=1.8), hoverinfo="skip"))
    kx = "xaxis" if i == 1 else f"xaxis{i}"
    ky = "yaxis" if i == 1 else f"yaxis{i}"
    layout_axes[kx] = dict(domain=[p["px"][0] / W, p["px"][1] / W], range=p["xr"], anchor=ya,
                           showgrid=False, zeroline=False, showline=True, linecolor="#333", linewidth=2,
                           ticks="", tickvals=p["xt"], ticktext=[str(v) for v in p["xt"]],
                           tickfont=dict(family=FONT, size=19.5, color="#222"), ticklabelstandoff=p["xso"])
    yax = dict(domain=[1 - p["py"][1] / H, 1 - p["py"][0] / H], range=p["yr"], anchor=xa,
               showgrid=False, zeroline=False, showline=True, linecolor="#333", linewidth=2,
               tickfont=dict(family=FONT, size=19.5, color="#222"))
    if p["yt"] is None:
        yax.update(showticklabels=False, ticks="")
    else:
        yax.update(tickvals=p["yt"], ticktext=[str(v) for v in p["yt"]], ticks="outside", ticklen=2,
                   tickcolor="#333", tickwidth=1, ticklabelstandoff=0)
    layout_axes[ky] = yax

ann = []
title_pos = [(190, "center"), (494, "center"), (688, "left")]
for t, (xp, anc) in zip(column_titles, title_pos):
    ann.append(dict(text=f"<b>{t}</b>", x=xp / W, y=1 - 18 / H, xref="paper", yref="paper",
                    xanchor=anc, yanchor="middle", showarrow=False,
                    font=dict(family=FONT, size=24, color="#222")))
for t, yp in zip(row_labels, [157, 474]):
    ann.append(dict(text=f"<b>{t}</b>", x=21 / W, y=1 - yp / H, xref="paper", yref="paper",
                    xanchor="center", yanchor="middle", textangle=-90, showarrow=False,
                    font=dict(family=FONT, size=29, color="#222")))
stat_pos = [(309, 41), (633, 41), (927, 40), (310, 359), (634, 358), (947, 358)]
stat_size = [17, 17, 17, 16.5, 16.5, 16.5]
for t, (xp, yp), fs in zip(stat_labels, stat_pos, stat_size):
    ann.append(dict(text=f"<i>{t}</i>", x=xp / W, y=1 - yp / H, xref="paper", yref="paper",
                    xanchor="right", yanchor="middle", showarrow=False,
                    font=dict(family=FONT, size=fs, color="#333")))
for yp in [271, 570]:
    ann.append(dict(text="x 10<sup>4</sup>", x=619 / W, y=1 - yp / H, xref="paper", yref="paper",
                    xanchor="right", yanchor="middle", showarrow=False,
                    font=dict(family=FONT, size=15, color="#222")))

fig.update_layout(width=W, height=H, margin=dict(l=0, r=0, t=0, b=0), showlegend=False,
                  paper_bgcolor="white", plot_bgcolor="white", annotations=ann, **layout_axes)

fig.write_html("out.html", config={"displayModeBar": False},
               post_script="document.body.style.margin='0';")
